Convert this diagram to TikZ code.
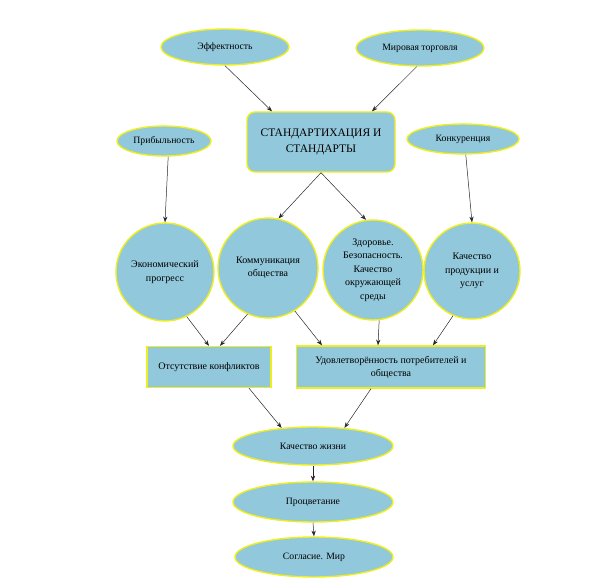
\documentclass[tikz,border=0pt]{standalone}
\usepackage{fontspec}
\setmainfont{Liberation Serif}
\usetikzlibrary{shapes.geometric, arrows.meta, calc}
\definecolor{cFill}{RGB}{146,200,219}
\definecolor{cEdge}{RGB}{238,238,30}
\tikzset{
	oval/.style ={ellipse, draw=cEdge, line width=1.4pt, fill=cFill, inner sep=0pt, align=center, font=\fontsize{9.7}{13}\selectfont},
	ball/.style ={circle, draw=cEdge, line width=1.4pt, fill=cFill, inner sep=0pt, align=center, font=\fontsize{10}{13.5}\selectfont},
	card/.style ={rectangle, draw=cEdge, line width=1.4pt, fill=cFill, inner sep=2pt, align=center, font=\fontsize{10}{13}\selectfont},
	link/.style ={-{Stealth[length=2mm, width=1.5mm]}, line width=0.5pt, draw=black!85},
}
\begin{document}
\begin{tikzpicture}[x=1pt, y=1pt]
	\useasboundingbox (0,0) rectangle (595,-583);
	% top level
	\node[oval, minimum width=128pt, minimum height=36pt] (eff) at (225,-47) {Эффектность};
	\node[oval, minimum width=128pt, minimum height=36pt] (mir) at (420,-48) {Мировая торговля};
	\node[card, rounded corners=8pt, minimum width=148pt, minimum height=60pt, font=\fontsize{11.5}{16}\selectfont] (std) at (321,-142) {СТАНДАРТИХАЦИЯ И\\СТАНДАРТЫ};
	\node[oval, minimum width=94pt, minimum height=30pt] (prib) at (164,-141) {Прибыльность};
	\node[oval, minimum width=112pt, minimum height=30pt] (konk) at (463,-139) {Конкуренция};
	% circles
	\node[ball, minimum size=98pt] (ekon) at (165,-272) {Экономический\\прогресс};
	\node[ball, minimum size=100pt] (komm) at (268,-268) {Коммуникация\\общества};
	\node[ball, minimum size=100pt] (zdor) at (373,-270) {Здоровье.\\Безопасность.\\Качество\\окружающей\\среды};
	\node[ball, minimum size=96pt] (kach) at (472,-271) {Качество\\продукции и\\услуг};
	% result boxes
	\node[card, minimum width=124pt, minimum height=41pt] (otsut) at (209,-367) {Отсутствие конфликтов};
	\node[card, minimum width=189pt, minimum height=42pt] (udov) at (391,-367) {Удовлетворённость потребителей и\\общества};
	% bottom chain
	\node[oval, minimum width=160pt, minimum height=38pt] (kzh) at (313,-446) {Качество жизни};
	\node[oval, minimum width=160pt, minimum height=40pt] (procv) at (313,-502) {Процветание};
	\node[oval, minimum width=158pt, minimum height=40pt] (sogl) at (314,-557) {Согласие. Мир};
	% connectors
	\draw[link] (eff.south) -- ($(std.north)+(-49,0)$);
	\draw[link] (mir.-100) -- ($(std.north)+(51,0)$);
	\draw[link] (prib.-75) -- (ekon.north);
	\draw[link] (konk.-80) -- (kach.north);
	\draw[link] (std.south) -- (komm.78);
	\draw[link] (std.south) -- (zdor.98);
	\draw[link] (ekon.-64) -- (otsut.north);
	\draw[link] (komm.-114) -- ($(otsut.north)+(11,0)$);
	\draw[link] (komm.-58) -- ($(udov.north)+(-69,0)$);
	\draw[link] (zdor.-83) -- ($(udov.north)+(-13,0)$);
	\draw[link] (kach.-113) -- ($(udov.north)+(42,0)$);
	\draw[link] ($(otsut.south)+(40,0)$) -- (kzh.150);
	\draw[link] ($(udov.south)+(-20,0)$) -- (kzh.30);
	\draw[link] (kzh.south) -- (procv.north);
	\draw[link] (procv.south) -- (sogl.north);
\end{tikzpicture}
\end{document}
